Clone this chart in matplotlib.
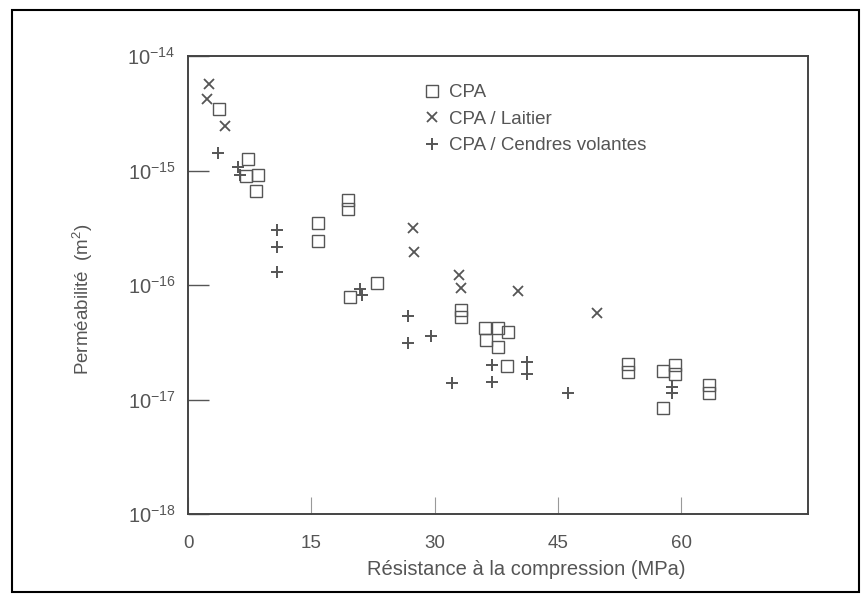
import matplotlib
matplotlib.use("Agg")
import matplotlib.pyplot as plt
from matplotlib.patches import Rectangle

plt.rcParams['font.family'] = ['Liberation Sans', 'DejaVu Sans']
plt.rcParams['mathtext.fontset'] = 'custom'
plt.rcParams['mathtext.rm'] = 'Liberation Sans'
plt.rcParams['mathtext.it'] = 'Liberation Sans'
plt.rcParams['mathtext.bf'] = 'Liberation Sans'

# --- data (strength in MPa, permeability in m^2) ---
cpa_x = [3.8, 7.3, 7.1, 8.5, 8.3, 19.5, 19.5, 15.8, 15.8, 23.0, 19.7,
         33.2, 33.2, 36.1, 37.7, 38.9, 36.3, 37.7, 38.8, 53.5, 53.5,
         57.8, 59.2, 59.2, 57.8, 63.3, 63.3]
cpa_y = [3.47e-15, 1.26e-15, 8.9e-16, 9.1e-16, 6.6e-16, 5.5e-16, 4.6e-16,
         3.5e-16, 2.4e-16, 1.05e-16, 7.8e-17, 6.0e-17, 5.25e-17, 4.17e-17,
         4.17e-17, 3.9e-17, 3.3e-17, 2.9e-17, 1.95e-17, 2.04e-17, 1.74e-17,
         1.78e-17, 2.0e-17, 1.66e-17, 8.5e-18, 1.35e-17, 1.15e-17]

laitier_x = [2.6, 2.3, 4.5, 27.4, 27.5, 33.0, 33.2, 40.1, 49.8]
laitier_y = [5.75e-15, 4.17e-15, 2.45e-15, 3.16e-16, 1.95e-16, 1.23e-16,
             9.5e-17, 8.9e-17, 5.75e-17]

cendres_x = [3.7, 6.1, 6.3, 10.8, 10.8, 10.8, 20.9, 21.2, 26.8, 26.8, 29.6,
             32.1, 37.0, 37.0, 41.2, 41.2, 46.2, 58.9, 58.9]
cendres_y = [1.41e-15, 1.07e-15, 9.1e-16, 3.0e-16, 2.14e-16, 1.29e-16,
             9.3e-17, 8.1e-17, 5.4e-17, 3.1e-17, 3.55e-17, 1.38e-17,
             2.0e-17, 1.41e-17, 2.14e-17, 1.66e-17, 1.15e-17, 1.29e-17,
             1.15e-17]

labels = ['CPA', 'CPA / Laitier', 'CPA / Cendres volantes']
xticks = [0, 15, 30, 45, 60]
yticks = [1e-18, 1e-17, 1e-16, 1e-15, 1e-14]
ytick_labels = [r'$10^{-18}$', r'$10^{-17}$', r'$10^{-16}$', r'$10^{-15}$', r'$10^{-14}$']

ink = '#555555'

fig = plt.figure(figsize=(8.63, 5.95), dpi=100)
ax = fig.add_axes([188/863, 1-514/595, (808-188)/863, (514-56)/595])

ax.plot(cpa_x, cpa_y, linestyle='none', marker='s', ms=8.5, mfc='none',
        mec=ink, mew=1.0, label=labels[0])
ax.plot(laitier_x, laitier_y, linestyle='none', marker='x', ms=7.5,
        mec=ink, mew=1.3, label=labels[1])
ax.plot(cendres_x, cendres_y, linestyle='none', marker='+', ms=8.5,
        mec=ink, mew=1.4, label=labels[2])

ax.set_yscale('log')
ax.set_xlim(0, 75.4)
ax.set_ylim(1e-18, 1e-14)
ax.set_xticks(xticks)
ax.set_xticklabels([str(t) for t in xticks])
ax.set_yticks(yticks)
ax.set_yticklabels(ytick_labels)
ax.minorticks_off()
ax.tick_params(axis='y', direction='in', length=15, width=1.0, color=ink,
               labelsize=14.5, labelcolor=ink, pad=9)
ax.tick_params(axis='x', direction='in', length=12, width=0.8, color='#999999',
               labelsize=13.5, labelcolor=ink, pad=15)
for s in ax.spines.values():
    s.set_color('#444444')
    s.set_linewidth(1.4)

ax.set_xlabel('Résistance à la compression (MPa)', fontsize=14.5, color=ink)
ax.xaxis.set_label_coords(0.545, -0.10)
ax.set_ylabel(r'Perméabilité  (m$^{2}$)', fontsize=13.5, color=ink)
ax.yaxis.set_label_coords(-0.15, 0.47)

leg = ax.legend(loc='upper left', bbox_to_anchor=(0.37, 0.955), frameon=False,
                fontsize=13.5, handlelength=0.8, handletextpad=0.5,
                labelspacing=0.5, borderaxespad=0)
for t in leg.get_texts():
    t.set_color(ink)

fig.patches.append(Rectangle((12/863, 3/595), 847/863, 582/595,
                             transform=fig.transFigure, fill=False,
                             edgecolor='black', linewidth=1.5))

fig.savefig('out.png', dpi=100)
